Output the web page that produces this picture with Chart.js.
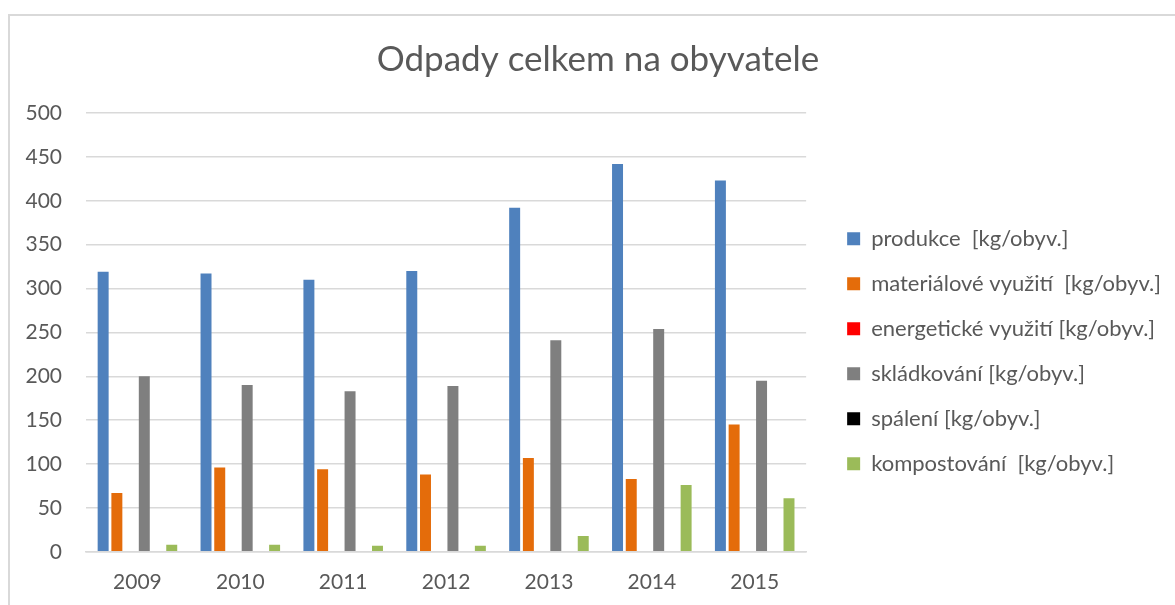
<!DOCTYPE html>
<html>
<head>
<meta charset="utf-8">
<script src="https://cdn.jsdelivr.net/npm/chart.js@4"></script>
<style>
  html, body { margin: 0; padding: 0; background: #fff; overflow: hidden; }
  #box {
    position: absolute; left: 8px; top: 14px;
    width: 1204px; height: 600px;
    border: 2px solid #d9d9d9;
    overflow: hidden;
  }
  #box canvas { display: block; }
</style>
</head>
<body>
<div id="box"><canvas id="odpadyChart" width="1200" height="589"></canvas></div>
<script>
// Data
const roky = ['2009', '2010', '2011', '2012', '2013', '2014', '2015'];
const produkce = [319, 317, 310, 320, 392, 442, 423];
const materialove = [67, 96, 94, 88, 107, 83, 145];
const energeticke = [0, 0, 0, 0, 0, 0, 0];
const skladkovani = [200, 190, 183, 189, 241, 254, 195];
const spaleni = [0, 0, 0, 0, 0, 0, 0];
const kompostovani = [8, 8, 7, 7, 18, 76, 61];
const yTicky = [0, 50, 100, 150, 200, 250, 300, 350, 400, 450, 500];

const font = "Lato, 'Open Sans', sans-serif";
const textColor = '#595959';

const ctx = document.getElementById('odpadyChart').getContext('2d');
new Chart(ctx, {
    type: 'bar',
    data: {
        labels: roky,
        datasets: [
            { label: 'produkce  [kg/obyv.]', data: produkce, backgroundColor: '#4f81bd' },
            { label: 'materiálové využití  [kg/obyv.]', data: materialove, backgroundColor: '#e46c0a' },
            { label: 'energetické využití [kg/obyv.]', data: energeticke, backgroundColor: '#ff0000' },
            { label: 'skládkování [kg/obyv.]', data: skladkovani, backgroundColor: '#7f7f7f' },
            { label: 'spálení [kg/obyv.]', data: spaleni, backgroundColor: '#000000' },
            { label: 'kompostování  [kg/obyv.]', data: kompostovani, backgroundColor: '#9bbb59' }
        ]
    },
    options: {
        responsive: false,
        animation: false,
        datasets: {
            bar: { categoryPercentage: 0.8, barPercentage: 0.8 }
        },
        layout: { padding: { left: 15, right: 39, top: 0, bottom: 0 } },
        plugins: {
            title: {
                display: true,
                text: 'Odpady celkem na obyvatele',
                color: textColor,
                font: { family: font, size: 35, weight: 'normal' },
                padding: { top: 23, bottom: 32 }
            },
            legend: {
                position: 'right',
                maxWidth: 420,
                title: { display: true, text: '', padding: { top: 0, bottom: 67 } },
                labels: {
                    color: textColor,
                    font: { family: font, size: 22 },
                    boxWidth: 13,
                    boxHeight: 13,
                    padding: 23
                }
            },
            tooltip: { enabled: false }
        },
        scales: {
            x: {
                grid: { display: false },
                border: { color: '#d9d9d9', width: 1.5 },
                ticks: { color: textColor, font: { family: font, size: 21 }, padding: 10 }
            },
            y: {
                min: 0,
                max: 500,
                afterBuildTicks: axis => { axis.ticks = yTicky.map(v => ({ value: v })); },
                afterFit: axis => { axis.width = 61; },
                grid: { color: '#d9d9d9', lineWidth: 1.5, drawTicks: false },
                border: { display: false },
                ticks: { color: textColor, font: { family: font, size: 21 }, padding: 24 }
            },
            // prázdná osa jen jako mezera mezi grafem a legendou
            mezera: {
                type: 'linear',
                position: 'right',
                grid: { display: false },
                border: { display: false },
                ticks: { display: false },
                afterFit: axis => { axis.width = 18; }
            }
        }
    }
});
</script>
</body>
</html>
